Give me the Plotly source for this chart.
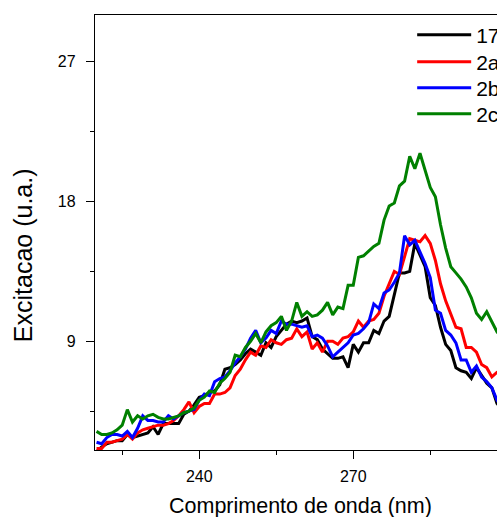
import plotly.graph_objects as go

wavelength = list(range(220, 301))

s17 = [1.9, 2.2, 2.4, 2.5, 2.6, 2.6, 3.0, 2.8, 2.9, 3.0,
       3.1, 3.5, 3.0, 3.7, 3.7, 3.7, 3.7, 4.3, 4.5, 4.9,
       5.4, 5.5, 5.7, 5.8, 6.2, 7.2, 7.3, 7.5, 7.8, 8.2,
       8.5, 8.3, 8.1, 8.9, 8.6, 9.3, 9.7, 10.1, 10.3, 10.2,
       10.3, 10.5, 9.3, 9.1, 8.5, 8.2, 7.9, 7.9, 8.0, 7.3,
       8.8, 8.3, 8.9, 8.9, 9.7, 9.5, 10.3, 10.6, 12.0, 13.4,
       13.4, 13.5, 15.3, 14.6, 13.8, 11.8, 11.3, 9.9, 8.8, 8.4,
       7.3, 7.1, 7.0, 6.6, 7.3, 6.8, 6.3, 6.0, 5.0, 4.6,
       4.3]

s2a = [2.1, 2.1, 2.5, 2.5, 2.6, 2.7, 3.0, 2.7, 3.1, 3.3,
       3.4, 3.5, 3.6, 3.6, 3.7, 3.9, 4.2, 4.6, 5.1, 4.4,
       4.8, 5.0, 5.0, 5.6, 5.6, 5.7, 6.0, 6.8, 7.2, 7.8,
       8.3, 8.1, 8.7, 8.6, 9.1, 8.9, 8.8, 9.1, 9.2, 9.8,
       9.3, 9.6, 8.5, 8.9, 8.3, 9.0, 9.0, 8.8, 9.2, 9.3,
       9.6, 10.3, 9.9, 10.3, 10.4, 10.8, 11.9, 12.7, 13.5, 13.3,
       14.5, 15.6, 15.5, 15.4, 15.8, 15.3, 14.2, 12.7, 11.6, 10.7,
       9.9, 9.8, 8.6, 8.6, 8.3, 7.5, 7.3, 6.7, 7.0, 7.1,
       6.8]

s2b = [2.5, 2.4, 2.8, 3.0, 3.0, 2.9, 3.2, 2.8, 3.4, 4.2,
       3.9, 3.9, 3.8, 3.8, 4.2, 4.0, 4.2, 4.4, 4.5, 4.6,
       5.2, 5.6, 5.5, 6.4, 6.6, 6.7, 7.1, 7.6, 8.0, 8.5,
       9.2, 9.7, 8.9, 9.2, 9.7, 9.5, 10.3, 10.1, 10.1, 10.0,
       9.9, 10.0, 9.3, 9.4, 9.2, 8.7, 8.0, 8.3, 8.6, 8.9,
       9.4, 9.5, 9.8, 10.2, 11.4, 11.1, 12.1, 12.3, 12.8, 13.4,
       15.8, 15.2, 15.5, 14.8, 14.0, 13.1, 11.0, 10.8, 9.7, 9.4,
       8.9, 7.8, 7.8, 7.0, 7.4, 6.7, 6.4, 6.0, 5.2, 4.8,
       4.5]

s2c = [3.2, 3.0, 3.0, 3.1, 3.3, 3.6, 4.6, 3.8, 4.2, 4.0,
       4.2, 4.3, 4.1, 4.0, 4.0, 4.1, 4.2, 4.4, 4.5, 4.7,
       5.2, 5.4, 5.8, 5.7, 6.3, 6.6, 7.0, 8.1, 8.0, 8.6,
       9.0, 9.5, 8.9, 9.6, 10.0, 10.2, 10.6, 9.7, 10.3, 11.5,
       10.6, 10.9, 10.6, 10.7, 11.0, 11.5, 10.7, 11.2, 11.1, 12.6,
       12.6, 14.4, 14.5, 14.8, 15.1, 15.3, 16.8, 17.7, 17.9, 19.0,
       19.3, 20.9, 20.1, 21.1, 20.0, 18.9, 18.3, 16.5, 15.0, 13.8,
       13.4, 13.0, 12.5, 11.8, 10.8, 10.4, 10.9, 10.2, 9.6, 9.2,
       8.8]

series_names = ["17", "2a'", "2b'", "2c'"]
series_values = [s17, s2a, s2b, s2c]
series_colors = ["#000000", "#ff0000", "#0000ff", "#008000"]

x_ticks = [240, 270]
y_ticks = [9, 18, 27]

legend_ids = ["legend", "legend2", "legend3", "legend4"]
legend_rows = [0.954, 0.892, 0.832, 0.772]

fig = go.Figure()
for name, vals, col, lid in zip(series_names, series_values, series_colors, legend_ids):
    fig.add_trace(go.Scatter(x=wavelength, y=vals, mode="lines", name=name,
                             line=dict(color=col, width=3), legend=lid))

font_family = "Liberation Sans, Arial, sans-serif"

legend_layout = {}
for lid, ly in zip(legend_ids, legend_rows):
    legend_layout[lid] = dict(x=0.789, y=ly, xanchor="left", yanchor="middle",
                              bgcolor="rgba(0,0,0,0)",
                              font=dict(size=21, color="black"),
                              itemwidth=54, tracegroupgap=0)

fig.update_layout(
    width=497, height=517, autosize=False,
    margin=dict(l=95, r=0, t=15, b=67, autoexpand=False),
    plot_bgcolor="white", paper_bgcolor="white",
    font=dict(family=font_family, color="black"),
    showlegend=True,
    xaxis=dict(range=[219.7, 298.0], tickvals=x_ticks, ticks="outside",
               ticklen=8, tickwidth=1.3, tickcolor="black",
               showline=True, linecolor="black", linewidth=1.3, mirror=True,
               showgrid=False, zeroline=False,
               tickfont=dict(size=16), ticklabelstandoff=4,
               minor=dict(tickvals=[225, 255, 285], ticks="outside", ticklen=4,
                          tickwidth=1.3, tickcolor="black", showgrid=False)),
    yaxis=dict(range=[2, 30], tickvals=y_ticks, ticks="outside",
               ticklen=8, tickwidth=1.3, tickcolor="black",
               showline=True, linecolor="black", linewidth=1.3, mirror=False,
               showgrid=False, zeroline=False,
               tickfont=dict(size=16), ticklabelstandoff=7,
               minor=dict(tickvals=[4.5, 13.5, 22.5], ticks="outside", ticklen=4,
                          tickwidth=1.3, tickcolor="black", showgrid=False)),
    annotations=[
        dict(text="Comprimento de onda (nm)", xref="paper", yref="paper",
             x=0.51, y=-0.129, xanchor="center", yanchor="middle",
             showarrow=False, font=dict(size=21.5)),
        dict(text="Excitacao (u.a.)", xref="paper", yref="paper",
             x=-0.179, y=0.448, xanchor="center", yanchor="middle",
             textangle=-90, showarrow=False, font=dict(size=25)),
    ],
    **legend_layout,
)

fig.write_html(
    "out.html",
    config={"displayModeBar": False, "responsive": False},
    post_script="document.body.style.margin='0';",
)
